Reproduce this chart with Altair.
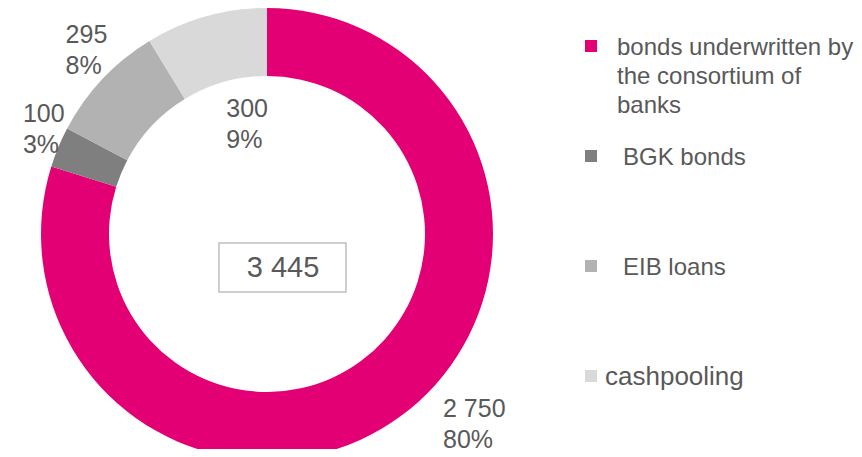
import altair as alt
import pandas as pd

categories = ["bonds underwritten by the consortium of banks", "BGK bonds", "EIB loans", "cashpooling"]
values = [2750, 100, 295, 300]
percents = [80, 3, 8, 9]
colors = ["#E20074", "#7F7F7F", "#B2B2B2", "#D9D9D9"]
legend_labels = ["bonds underwritten by\nthe consortium of\nbanks", "BGK bonds", "EIB loans", "cashpooling"]

df = pd.DataFrame({
    "cat": categories,
    "value": values,
    "pct": percents,
    "idx": list(range(len(categories))),
    "legend": legend_labels,
})

FONT = "Liberation Sans"
TXT = "#595959"
CX, CY = 259, 226

base = alt.Chart(df)
color = alt.Color("cat:N", scale=alt.Scale(domain=categories, range=colors), legend=None)

donut = base.mark_arc(radius=226, radius2=158).encode(
    theta=alt.Theta("value:Q", stack=True),
    order=alt.Order("idx:Q"),
    color=color,
    x=alt.value(CX),
    y=alt.value(CY),
)

# slice labels: one layer per slice (stack over all rows, only one text shown)
label_style = {
    0: dict(radius=260, dx=22, dy=-27),
    1: dict(radius=260, dx=-4, dy=-12),
    2: dict(radius=260, dx=-12, dy=-13),
    3: dict(radius=110, dx=-11, dy=-11),
}
label_layers = []
for i, st in label_style.items():
    lyr = base.transform_calculate(
        lab=f"datum.idx == {i} ? replace(format(datum.value, ','), ',', ' ') + '\\n' + datum.pct + '%' : ''"
    ).mark_text(
        radius=st["radius"], dx=st["dx"], dy=st["dy"], align="left", baseline="alphabetic",
        lineBreak="\n", lineHeight=31, font=FONT, fontSize=25, color=TXT,
    ).encode(
        theta=alt.Theta("value:Q", stack=True),
        order=alt.Order("idx:Q"),
        text="lab:N",
        x=alt.value(CX),
        y=alt.value(CY),
    )
    label_layers.append(lyr)

# total in a box
agg = base.transform_aggregate(total="sum(value)").transform_calculate(
    t="replace(format(datum.total, ','), ',', ' ')"
)
box = agg.mark_rect(fill="white", stroke="#BFBFBF", strokeWidth=1.5).encode(
    x=alt.value(211), x2=alt.value(338), y=alt.value(235), y2=alt.value(284)
)
total = agg.mark_text(font=FONT, fontSize=29, color=TXT, align="center", baseline="middle").encode(
    text="t:N", x=alt.value(275), y=alt.value(260)
)

# manual legend
leg_y = alt.Y("cat:N", scale=alt.Scale(type="point", domain=categories, range=[38, 368], padding=0), axis=None)
squares = base.mark_square(size=144, opacity=1, filled=True).encode(
    x=alt.value(583), y=leg_y, color=color
)
leg_text_kw = dict(align="left", baseline="alphabetic", lineBreak="\n", lineHeight=29,
                   font=FONT, color=TXT, dy=9)
leg1 = base.transform_filter(alt.datum.idx == 0).mark_text(fontSize=24, **leg_text_kw).encode(
    x=alt.value(609), y=leg_y, text="legend:N")
leg2 = base.transform_filter((alt.datum.idx == 1) | (alt.datum.idx == 2)).mark_text(fontSize=24, **leg_text_kw).encode(
    x=alt.value(615), y=leg_y, text="legend:N")
leg3 = base.transform_filter(alt.datum.idx == 3).mark_text(fontSize=26, **leg_text_kw).encode(
    x=alt.value(597), y=leg_y, text="legend:N")

chart = alt.layer(donut, box, total, *label_layers, squares, leg1, leg2, leg3).properties(
    width=846, height=441, padding=0, autosize=alt.AutoSizeParams(type="none")
).configure_view(strokeWidth=0)

chart.save("out.html", embed_options={"renderer": "svg", "actions": False})
